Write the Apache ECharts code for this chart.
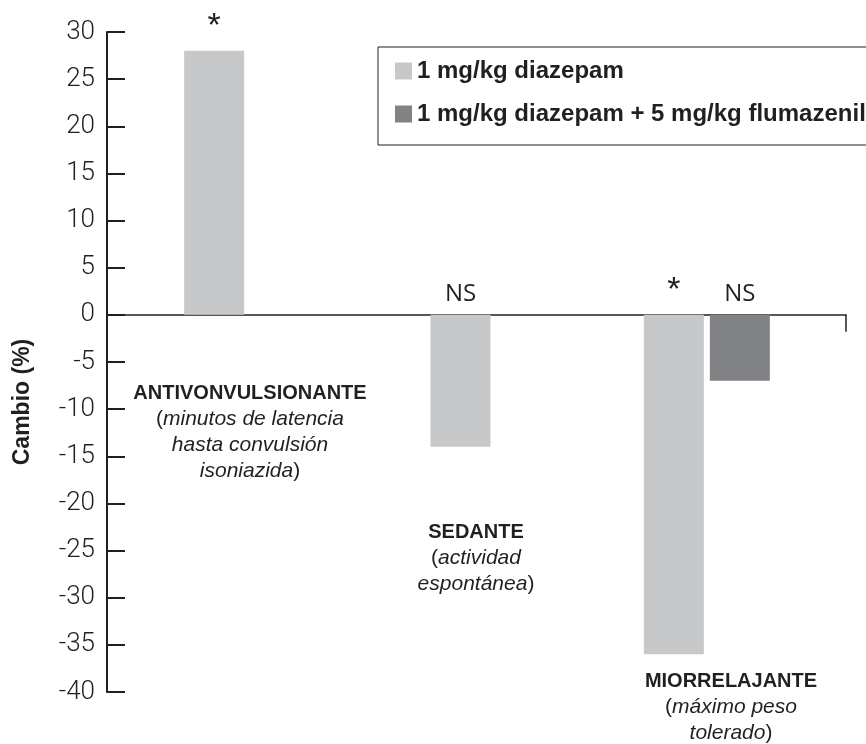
<!DOCTYPE html>
<html>
<head>
<meta charset="utf-8">
<script src="https://cdn.jsdelivr.net/npm/echarts@6/dist/echarts.min.js"></script>
<style>
html,body{margin:0;padding:0;background:#ffffff;}
#c{width:866px;height:744px;}
</style>
</head>
<body>
<div id="c"></div>
<script>
// ---- data ----
const categories = ['ANTIVONVULSIONANTE', 'SEDANTE', 'MIORRELAJANTE'];
const categoryNotes = [
  ['minutos de latencia', 'hasta convulsión', 'isoniazida'],
  ['actividad', 'espontánea'],
  ['máximo peso', 'tolerado']
];
const seriesNames = ['1 mg/kg diazepam', '1 mg/kg diazepam + 5 mg/kg flumazenil'];
const diazepam = [28, -14, -36];
const flumazenil = [null, null, -7];
const diazepamSig = ['*', 'NS', '*'];
const flumazenilSig = ['', '', 'NS'];
const yMin = -40, yMax = 30, yStep = 5;
const yAxisTitle = 'Cambio (%)';

// ---- styles ----
const ink = '#231f20';
const lightGrey = '#c7c8ca';
const darkGrey = '#808285';
const boldFont = 'Liberation Sans';

const chart = echarts.init(document.getElementById('c'), null, {renderer: 'canvas'});

function sigLabel(arr) {
  return {
    show: true,
    position: 'top',
    distance: 7,
    formatter: function (p) {
      const s = arr[p.dataIndex];
      if (!s) return '';
      return s === '*' ? '{a|*}' : '{n|' + s + '}';
    },
    rich: {
      a: {fontFamily: 'Liberation Sans', fontSize: 34, lineHeight: 34, color: ink},
      n: {fontFamily: 'Open Sans', fontSize: 24, lineHeight: 24, color: ink, padding: [0, 0, 4, 0]}
    }
  };
}

const plotBox = {top: 32, width: 739, height: 660};
const hiddenValueAxis = {type: 'value', min: yMin, max: yMax, interval: yStep, show: false, gridIndex: 1};

const option = {
  animation: false,
  backgroundColor: '#ffffff',
  grid: [
    Object.assign({left: 107}, plotBox),   // visible frame (axes)
    Object.assign({left: 91}, plotBox)     // bar bands
  ],
  legend: {
    orient: 'vertical',
    left: 378,
    top: 47,
    data: seriesNames,
    icon: 'rect',
    itemWidth: 17,
    itemHeight: 17,
    itemGap: 13,
    padding: [9, 24, 16, 17],
    borderColor: ink,
    borderWidth: 1,
    textStyle: {fontFamily: boldFont, fontWeight: 'bold', fontSize: 24, lineHeight: 30, color: ink}
  },
  xAxis: [
    {
      type: 'category', gridIndex: 0,
      data: categories,
      axisLine: {onZero: true, lineStyle: {color: ink, width: 1.5}},
      axisTick: {show: false},
      axisLabel: {show: false},
      splitLine: {show: false}
    },
    {type: 'category', gridIndex: 1, data: categories, show: false},
    {type: 'category', gridIndex: 1, data: categories, show: false}
  ],
  yAxis: [
    {
      type: 'value', gridIndex: 0,
      min: yMin,
      max: yMax,
      interval: yStep,
      axisLine: {show: true, lineStyle: {color: ink, width: 2}},
      axisTick: {show: true, inside: true, length: 18, lineStyle: {color: ink, width: 2}},
      axisLabel: {margin: 12, fontFamily: 'Roboto', fontWeight: 300, fontSize: 26, color: ink},
      splitLine: {show: false}
    },
    hiddenValueAxis
  ],
  series: [
    {
      name: seriesNames[0], type: 'bar', xAxisIndex: 1, yAxisIndex: 1, barWidth: 60,
      itemStyle: {color: lightGrey},
      data: diazepam.map((v, i) => flumazenil[i] == null ? v : null),
      label: sigLabel(diazepamSig)
    },
    {
      name: seriesNames[0], type: 'bar', xAxisIndex: 2, yAxisIndex: 1, barWidth: 60, barGap: '10%',
      itemStyle: {color: lightGrey},
      data: diazepam.map((v, i) => flumazenil[i] != null ? v : null),
      label: sigLabel(diazepamSig)
    },
    {
      name: seriesNames[1], type: 'bar', xAxisIndex: 2, yAxisIndex: 1, barWidth: 60, barGap: '10%',
      itemStyle: {color: darkGrey},
      data: flumazenil,
      label: sigLabel(flumazenilSig)
    }
  ]
};
chart.setOption(option);

// ---- annotations ----
const y0 = chart.convertToPixel({yAxisIndex: 0}, 0);
const xEnd = 107 + 739;
const noteAnchors = [[250, 380], [476, 519], [731, 668]];
function noteText(i) {
  const notes = categoryNotes[i];
  const lines = ['{b|' + categories[i] + '}'];
  notes.forEach(function (n, k) {
    let s = '{i|' + n + '}';
    if (k === 0) s = '{n|(}' + s;
    if (k === notes.length - 1) s = s + '{n|)}';
    lines.push(s);
  });
  return lines.join('\n');
}
const rich = {
  b: {fontFamily: boldFont, fontWeight: 'bold', fontSize: 20, lineHeight: 26, fill: ink, color: ink},
  i: {fontFamily: 'Liberation Sans', fontStyle: 'italic', fontSize: 21, lineHeight: 26, fill: ink, color: ink},
  n: {fontFamily: 'Liberation Sans', fontSize: 21, lineHeight: 26, fill: ink, color: ink}
};
const graphics = categories.map(function (c, i) {
  return {
    type: 'text',
    x: noteAnchors[i][0],
    y: noteAnchors[i][1],
    style: {text: noteText(i), rich: rich, align: 'center', verticalAlign: 'top', fill: ink}
  };
});
graphics.push({
  type: 'text', x: 23, y: 402, rotation: Math.PI / 2,
  style: {text: yAxisTitle, fontFamily: boldFont, fontWeight: 'bold', fontSize: 23, fill: ink, align: 'center', verticalAlign: 'middle'}
});
graphics.push({
  type: 'line',
  shape: {x1: xEnd, y1: y0, x2: xEnd, y2: y0 + 17},
  style: {stroke: ink, lineWidth: 1.5}
});
chart.setOption({graphic: graphics});
</script>
</body>
</html>
